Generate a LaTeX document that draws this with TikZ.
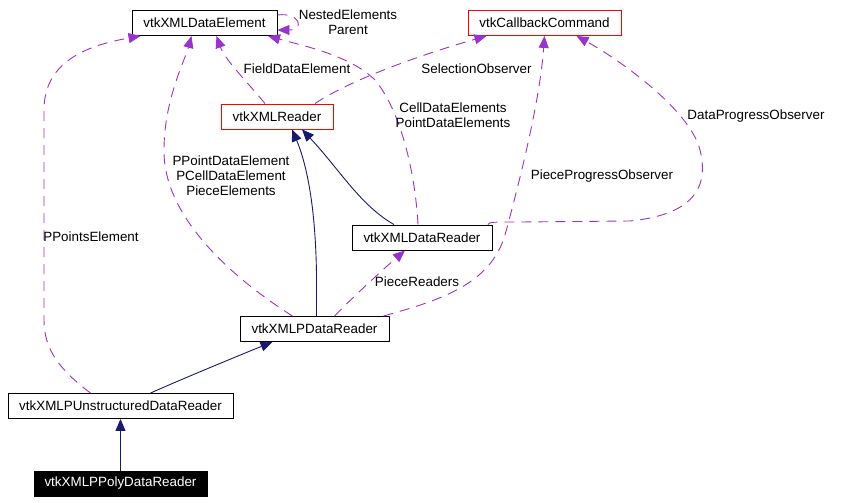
\documentclass[tikz,border=0pt]{standalone}
\usepackage{fontspec}
\setmainfont{Liberation Sans}
\usetikzlibrary{arrows.meta}
\definecolor{edgepurple}{HTML}{9A32CD}
\definecolor{edgenavy}{HTML}{191970}
\begin{document}
\begin{tikzpicture}[x=1pt,y=-1pt,
  font=\fontsize{13.4}{15}\selectfont,
  cls/.style={draw=black,line width=0.9pt,fill=white,inner sep=0pt,minimum height=25pt,anchor=center},
  redcls/.style={cls,draw=red},
  curcls/.style={cls,fill=black,text=white},
  inh/.style={draw=edgenavy,line width=0.9pt,-{Triangle[length=12pt,width=10pt]}},
  use/.style={draw=edgepurple,line width=0.9pt,dash pattern=on 10pt off 7pt,-{Triangle[length=12pt,width=10pt]}},
  lbl/.style={inner sep=0pt,align=center}
]
\useasboundingbox (0,0) rectangle (851,503);

% nodes
\node[cls,minimum width=145pt] (xde) at (204.5,23) {vtkXMLDataElement};
\node[redcls,minimum width=153pt] (cb) at (544.5,23) {vtkCallbackCommand};
\node[redcls,minimum width=112pt] (xr) at (277,116.5) {vtkXMLReader};
\node[cls,minimum width=140pt] (xdr) at (422,237.5) {vtkXMLDataReader};
\node[cls,minimum width=149pt] (pd) at (314.5,329) {vtkXMLPDataReader};
\node[cls,minimum width=225pt] (pu) at (120.5,406) {vtkXMLPUnstructuredDataReader};
\node[curcls,minimum width=173pt] (pp) at (120.5,483.5) {vtkXMLPPolyDataReader};

% inheritance (navy, solid)
\draw[inh] (pp.north) -- (pu.south);
\draw[inh] ([xshift=30pt]pu.north) .. controls (175,382) and (240,355) .. ([xshift=-42pt]pd.south);
\draw[inh] ([xshift=2pt]pd.north) -- (316.5,275) .. controls (315.5,200) and (305,160) .. ([xshift=15pt]xr.south);
\draw[inh] ([xshift=-28pt]xdr.north) .. controls (360,205) and (340,170) .. ([xshift=25pt]xr.south);

% usage (purple, dashed)
\draw[use] ([xshift=20pt]pd.north) .. controls (350,300) and (380,272) .. ([xshift=-17pt]xdr.south);
\node[lbl] (lpr) at (417,282) {PieceReaders};

\draw[use] ([xshift=-22pt]pd.north) .. controls (220,270) and (163,210) .. (164,150) .. controls (164,100) and (185,60) .. ([xshift=-13pt]xde.south);
\node[lbl] (lppe) at (231,176) {PPointDataElement\\PCellDataElement\\PieceElements};

\draw[use] ([xshift=-30pt]pu.north) .. controls (60,370) and (44,350) .. (44,320) -- (44,110) .. controls (44,60) and (90,45) .. ([xshift=-64pt]xde.south);
\node[lbl] (lpe) at (91,237) {PPointsElement};

\draw[use] ([xshift=-12pt]xr.north) .. controls (250,85) and (225,60) .. ([xshift=12pt]xde.south);
\node[lbl] (lfd) at (297,69) {FieldDataElement};

\draw[use] ([yshift=8pt]xde.east) .. controls (300,12) and (305,30) .. ([yshift=-7pt]xde.east);
\node[lbl] (lne) at (348,22) {NestedElements\\Parent};

\draw[use] ([xshift=-4pt]xdr.north) .. controls (415,170) and (400,110) .. (375,80) .. controls (350,55) and (300,45) .. ([xshift=63.5pt]xde.south);
\node[lbl] (lcd) at (453,115.5) {CellDataElements\\PointDataElements};

\draw[use] ([xshift=38pt]xr.north) .. controls (350,80) and (420,55) .. ([xshift=-58pt]cb.south);
\node[lbl] (lso) at (476.5,69) {SelectionObserver};

\draw[use] ([xshift=69pt]pd.north) .. controls (440,300) and (490,285) .. (505,235) .. controls (520,180) and (540,100) .. (cb.south);
\node[lbl] (lppo) at (602,176) {PieceProgressObserver};

\draw[use] ([xshift=66pt]xdr.north) .. controls (490,222) .. (520,222) -- (630,221) .. controls (690,215) and (710,190) .. (700,150) .. controls (690,110) and (620,60) .. ([xshift=32pt]cb.south);
\node[lbl] (ldpo) at (756,116) {DataProgressObserver};
\end{tikzpicture}
\end{document}
